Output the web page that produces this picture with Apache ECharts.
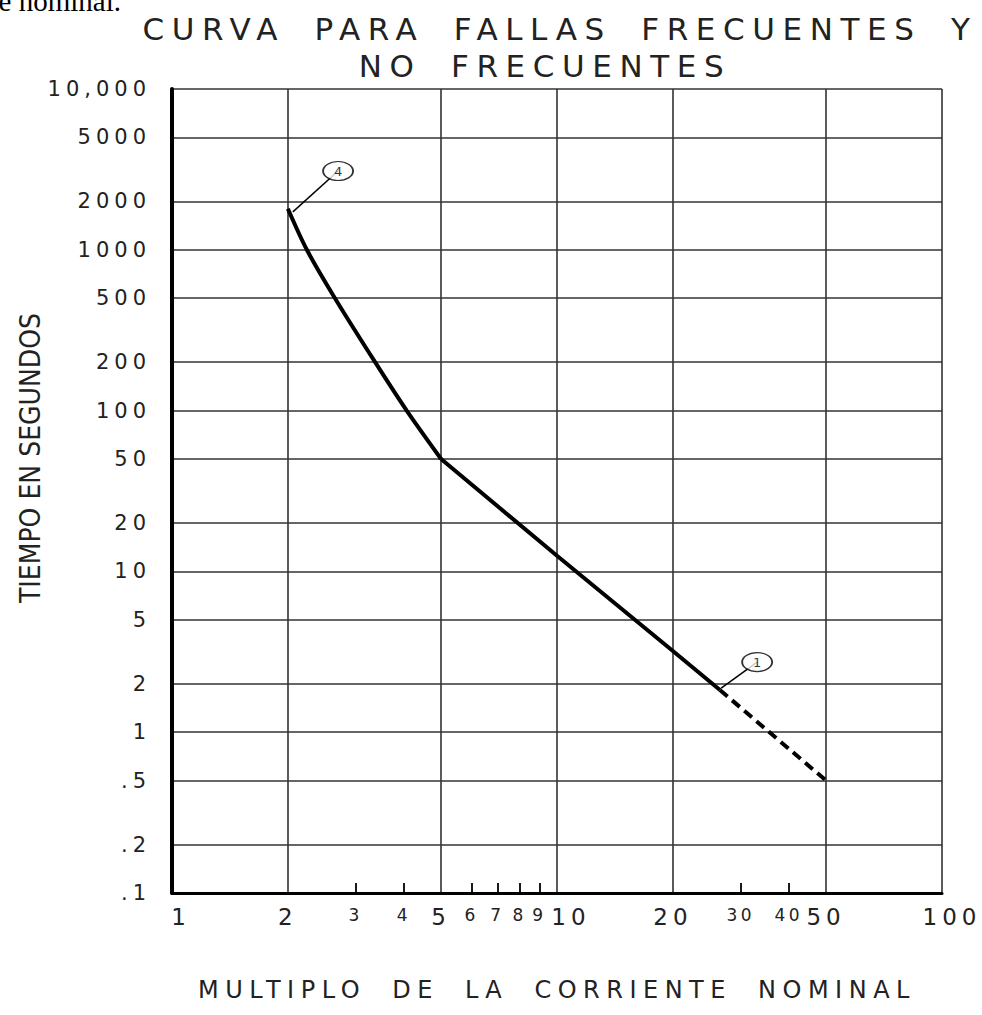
<!DOCTYPE html>
<html>
<head>
<meta charset="utf-8">
<script src="https://cdn.jsdelivr.net/npm/echarts@6/dist/echarts.min.js"></script>
<style>
  html, body { margin: 0; padding: 0; background: #fff; }
  #chart { width: 982px; height: 1015px; }
  /* drafting-style tracking for the lettering (selected by font size) */
  #chart text[style*="31px"] { letter-spacing: 7.6px; word-spacing: 12px; }
  #chart text[style*="21px"] { letter-spacing: 5px; }
  #chart text[style*="23px"] { letter-spacing: 5px; }
  #chart text[style*="17px"] { letter-spacing: 3.5px; }
  #chart text[style*="24px"] { letter-spacing: 6.5px; word-spacing: 12px; }
</style>
</head>
<body>
<div id="chart"></div>
<script>
// ---- text ----
const titleLines = ['CURVA PARA FALLAS FRECUENTES Y', 'NO FRECUENTES'];
const xAxisTitle = 'MULTIPLO DE LA CORRIENTE NOMINAL';
const yAxisTitle = 'TIEMPO EN SEGUNDOS';
const headerFragment = 'corriente nominal.';

// ---- axis ticks ----
const xMajorTicks = [1, 2, 5, 10, 20, 50, 100];
const xMinorTicks = [3, 4, 6, 7, 8, 9, 30, 40];
const yTicks = [0.1, 0.2, 0.5, 1, 2, 5, 10, 20, 50, 100, 200, 500, 1000, 2000, 5000, 10000];
const yTickLabels = ['.1', '.2', '.5', '1', '2', '5', '10', '20', '50', '100', '200', '500', '1000', '2000', '5000', '10,000'];

// ---- time-current curve (multiple of rated current, seconds) ----
// steep upper branch, from 2x down to 5x
const upperMultiple = [2, 2.24, 2.65, 3.37, 4.07, 5];
const upperSeconds  = [1800, 1000, 500, 200, 100, 50];
// straight lower branch, from 5x down to the start of the extension
const lowerMultiple = [5, 10, 20, 26.5];
const lowerSeconds  = [50, 12.5, 3.2, 1.83];
// dashed extension of the curve
const extMultiple = [26.5, 50];
const extSeconds  = [1.83, 0.5];

// ---- numbered callouts: anchor on the curve and tag position ----
const calloutTags     = ['4', '1'];
const calloutAnchorX  = [2.06, 26.7];
const calloutAnchorY  = [1720, 1.88];
const calloutTagX     = [2.70, 33.1];
const calloutTagY     = [3090, 2.73];

const SANS = "'DejaVu Sans', sans-serif";
const NARROW = "'Liberation Sans Narrow', 'DejaVu Sans Condensed', 'DejaVu Sans', sans-serif";
const INK = '#222';
const GRID = { color: '#333', width: 1.6 };

function idxOf(list, v) {
  let best = 0, bd = Infinity;
  list.forEach((t, i) => {
    const d = Math.abs(Math.log10(t) - Math.log10(v));
    if (d < bd) { bd = d; best = i; }
  });
  return best;
}

const pairs = (xs, ys) => xs.map((x, i) => [x, ys[i]]);

const chart = echarts.init(document.getElementById('chart'), null, { renderer: 'svg' });

const leaderSeries = calloutTags.map((t, i) => ({
  type: 'line',
  xAxisIndex: 0, yAxisIndex: 0,
  data: [[calloutAnchorX[i], calloutAnchorY[i]], [calloutTagX[i], calloutTagY[i]]],
  symbol: 'none',
  lineStyle: { color: '#000', width: 1.5 },
  z: 6,
  silent: true
}));

const bigLabelRich = {
  n: { fontSize: 23, fontFamily: SANS, color: INK },
  a: { fontSize: 23, fontFamily: SANS, color: INK, padding: [0, 0, 0, 18] },
  b: { fontSize: 23, fontFamily: SANS, color: INK, padding: [0, 0, 0, 28] },
  c: { fontSize: 23, fontFamily: SANS, color: INK, padding: [0, 0, 0, 20] }
};

// two-line heading; each line nudged slightly off the common centre
const titleLineStyle = { fontFamily: SANS, fontSize: 31, lineHeight: 37, fontWeight: 'normal', color: INK };

chart.setOption({
  animation: false,
  backgroundColor: '#fff',
  title: {
    text: '{l1|' + titleLines[0] + '}\n{l2|' + titleLines[1] + '}',
    left: 553, top: 10, padding: 0, textAlign: 'center',
    textStyle: {
      fontFamily: SANS, fontSize: 31, lineHeight: 37, fontWeight: 'normal', color: INK,
      rich: {
        l1: Object.assign({ padding: [0, 0, 0, 14] }, titleLineStyle),
        l2: Object.assign({ padding: [0, 16, 0, 0] }, titleLineStyle)
      }
    }
  },
  graphic: [
    {
      type: 'text', x: 121, y: 15, silent: true,
      style: {
        text: headerFragment, font: "29px 'Liberation Serif', serif",
        fill: '#000', textAlign: 'right', textVerticalAlign: 'bottom'
      }
    }
  ],
  grid: { left: 172, right: 40, top: 89, bottom: 122, containLabel: false, outerBoundsMode: 'none' },
  xAxis: [
    {
      type: 'log', logBase: 10, min: 1, max: 100, position: 'bottom',
      name: xAxisTitle, nameLocation: 'middle', nameGap: 85,
      nameTextStyle: { fontFamily: SANS, fontSize: 24, color: INK },
      axisLine: { show: true, onZero: false, lineStyle: { color: '#000', width: 3 } },
      axisTick: { show: false, customValues: xMajorTicks },
      splitLine: { show: true, lineStyle: GRID },
      axisLabel: {
        customValues: xMajorTicks, margin: 12,
        fontFamily: SANS, fontSize: 23, color: INK,
        formatter: v => {
          const i = idxOf(xMajorTicks, v);
          const t = xMajorTicks[i];
          const k = t === 1 ? 'a' : t === 10 ? 'b' : t === 100 ? 'c' : 'n';
          return '{' + k + '|' + t + '}';
        },
        rich: bigLabelRich
      }
    },
    {
      type: 'log', logBase: 10, min: 1, max: 100, position: 'bottom',
      axisLine: { show: false },
      axisTick: { show: true, inside: true, length: 10, customValues: xMinorTicks, lineStyle: { color: '#000', width: 1.8 } },
      splitLine: { show: false },
      axisLabel: {
        customValues: xMinorTicks, margin: 13,
        fontFamily: SANS, fontSize: 17, color: INK,
        formatter: v => String(xMinorTicks[idxOf(xMinorTicks, v)])
      }
    }
  ],
  yAxis: {
    type: 'log', logBase: 10, min: 0.1, max: 10000,
    name: yAxisTitle, nameLocation: 'middle', nameGap: 128,
    nameTextStyle: { fontFamily: NARROW, fontSize: 28, color: INK, padding: [0, 0, 0, 66] },
    axisLine: { show: true, onZero: false, lineStyle: { color: '#000', width: 4 } },
    axisTick: { show: false, customValues: yTicks },
    splitLine: { show: true, lineStyle: GRID },
    axisLabel: {
      customValues: yTicks, margin: 21,
      fontFamily: SANS, fontSize: 21, color: INK,
      formatter: v => yTickLabels[idxOf(yTicks, v)]
    }
  },
  series: [
    {
      type: 'line', name: 'curva', xAxisIndex: 0, yAxisIndex: 0,
      data: pairs(upperMultiple, upperSeconds), smooth: 0.3,
      symbol: 'none', lineStyle: { color: '#000', width: 4 }, z: 5, silent: true
    },
    {
      type: 'line', name: 'curva', xAxisIndex: 0, yAxisIndex: 0,
      data: pairs(lowerMultiple, lowerSeconds),
      symbol: 'none', lineStyle: { color: '#000', width: 4 }, z: 5, silent: true
    },
    {
      type: 'line', name: 'extension', xAxisIndex: 0, yAxisIndex: 0,
      data: pairs(extMultiple, extSeconds),
      symbol: 'none', lineStyle: { color: '#000', width: 4, type: [10, 6] }, z: 5, silent: true
    },
    ...leaderSeries,
    {
      type: 'scatter', name: 'callouts', xAxisIndex: 0, yAxisIndex: 0,
      data: calloutTags.map((t, i) => ({ name: t, value: [calloutTagX[i], calloutTagY[i]] })),
      symbol: 'path://M0,10A10,10,0,1,1,20,10A10,10,0,1,1,0,10Z',
      symbolSize: [30, 19],
      itemStyle: { color: '#fff', borderColor: '#000', borderWidth: 1.5 },
      label: { show: true, position: 'inside', formatter: '{b}', fontFamily: SANS, fontSize: 13, color: '#000' },
      z: 7, silent: true
    }
  ]
});
</script>
</body>
</html>
